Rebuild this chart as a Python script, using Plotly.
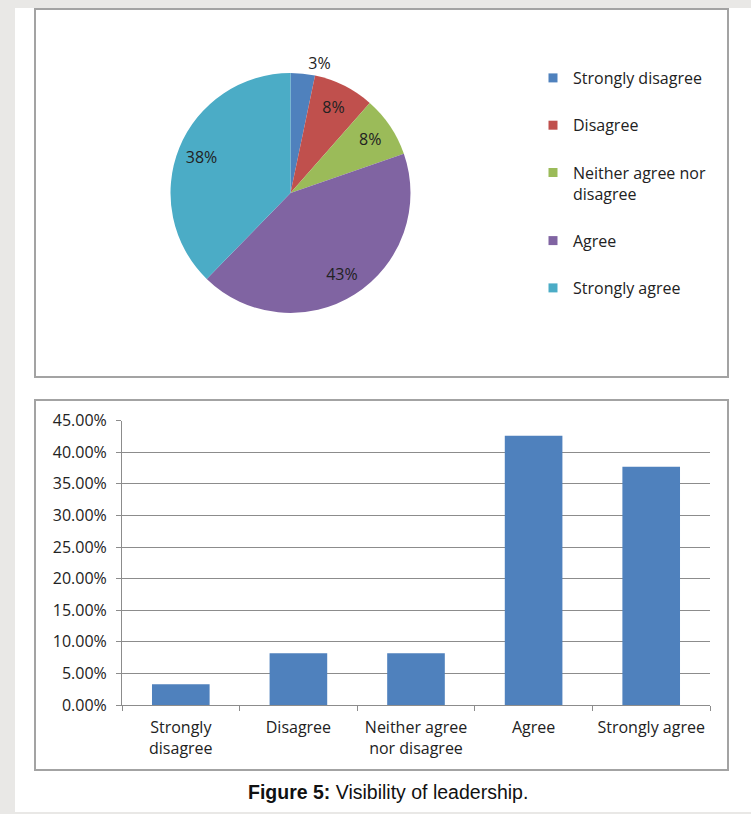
import plotly.graph_objects as go

# ---- data ----
categories = ["Strongly disagree", "Disagree", "Neither agree nor disagree", "Agree", "Strongly agree"]
share_pct = [3.28, 8.20, 8.20, 42.62, 37.70]          # percent of respondents
pie_colors = ["#4F81BD", "#C0504D", "#9BBB59", "#8064A2", "#4BACC6"]
bar_color = "#4F81BD"
bar_tick_labels = ["Strongly<br>disagree", "Disagree", "Neither agree<br>nor disagree", "Agree", "Strongly agree"]
legend_labels = ["Strongly disagree", "Disagree", "Neither agree nor<br>disagree", "Agree", "Strongly agree"]
y_tickvals = [0, 0.05, 0.10, 0.15, 0.20, 0.25, 0.30, 0.35, 0.40, 0.45]

W, H = 751, 814
FONT = "Open Sans"
TXT = "#222222"
FS = 16

def px_x(p):
    return p / W

def px_y(p):
    return 1 - p / H

pie_domain = dict(x=[px_x(170.5), px_x(410.5)], y=[px_y(313), px_y(73)])

fig = go.Figure()

# pie (slices)
fig.add_trace(go.Pie(
    labels=categories,
    values=share_pct,
    marker=dict(colors=pie_colors, line=dict(width=0)),
    sort=False,
    direction="clockwise",
    rotation=0,
    textinfo="none",
    showlegend=False,
    hoverinfo="label+percent",
    domain=pie_domain,
))

# pie data labels (transparent ring so the labels sit near the rim, like Excel)
fig.add_trace(go.Pie(
    labels=categories,
    values=share_pct,
    hole=0.6,
    marker=dict(colors=["rgba(0,0,0,0)"] * len(categories), line=dict(width=0)),
    sort=False,
    direction="clockwise",
    rotation=0,
    texttemplate="%{percent:.0%}",
    textposition=["outside", "inside", "inside", "inside", "inside"],
    insidetextorientation="horizontal",
    textfont=dict(family=FONT, size=FS, color=TXT),
    showlegend=False,
    hoverinfo="skip",
    domain=pie_domain,
))

# bars
fig.add_trace(go.Bar(
    x=categories,
    y=[v / 100 for v in share_pct],
    marker=dict(color=bar_color, line=dict(width=0)),
    showlegend=False,
    xaxis="x", yaxis="y",
))

# legend entries for the pie
for lab, col in zip(legend_labels, pie_colors):
    fig.add_trace(go.Scatter(
        x=[None], y=[None], mode="markers",
        marker=dict(symbol="square", size=9, color=col),
        name=lab, legendgroup=lab, showlegend=True,
        xaxis="x", yaxis="y",
    ))

shapes = [
    # white panel
    dict(type="rect", xref="paper", yref="paper", x0=px_x(15), x1=1.0, y0=px_y(812), y1=px_y(8),
         fillcolor="white", line=dict(width=0), layer="below"),
    # pie box
    dict(type="rect", xref="paper", yref="paper", x0=px_x(35), x1=px_x(728), y0=px_y(377), y1=px_y(9),
         fillcolor="rgba(0,0,0,0)", line=dict(color="#A3A3A3", width=2), layer="below"),
    # bar box
    dict(type="rect", xref="paper", yref="paper", x0=px_x(35), x1=px_x(728), y0=px_y(770), y1=px_y(400),
         fillcolor="rgba(0,0,0,0)", line=dict(color="#A3A3A3", width=2), layer="below"),
]

fig.update_layout(
    width=W, height=H,
    margin=dict(l=0, r=0, t=0, b=0, autoexpand=False),
    paper_bgcolor="#E9E8E6",
    plot_bgcolor="white",
    font=dict(family=FONT, size=FS, color=TXT),
    shapes=shapes,
    bargap=0.51,
    legend=dict(
        x=px_x(533), y=px_y(61), xanchor="left", yanchor="top",
        bgcolor="rgba(0,0,0,0)",
        font=dict(family=FONT, size=FS, color=TXT),
        tracegroupgap=23.5,
        valign="top",
    ),
    xaxis=dict(
        domain=[px_x(122), px_x(710)],
        anchor="y",
        type="category",
        tickmode="array",
        tickvals=categories,
        ticktext=bar_tick_labels,
        tickson="boundaries",
        ticks="outside", ticklen=5, tickcolor="#8C8C8C",
        ticklabelstandoff=8,
        showline=True, linecolor="#8C8C8C", linewidth=1,
        showgrid=False,
        automargin=False,
        tickfont=dict(family=FONT, size=FS, color=TXT),
        fixedrange=True,
    ),
    yaxis=dict(
        domain=[px_y(705), px_y(420.6)],
        anchor="x",
        range=[0, 0.45],
        tickmode="array",
        tickvals=y_tickvals,
        tickformat=".2%",
        ticks="outside", ticklen=5, tickcolor="#8C8C8C",
        ticklabelstandoff=6,
        showline=True, linecolor="#8C8C8C", linewidth=1,
        showgrid=True, gridcolor="#8C8C8C", gridwidth=1,
        zeroline=False,
        automargin=False,
        tickfont=dict(family=FONT, size=FS, color=TXT),
        fixedrange=True,
    ),
    annotations=[
        dict(text="<b>Figure 5:</b> Visibility of leadership.", xref="paper", yref="paper",
             x=px_x(388), y=px_y(792), xanchor="center", yanchor="middle", showarrow=False,
             font=dict(family="Liberation Sans, Arial", size=19.5, color="#111111")),
    ],
)

fig.write_html(
    "out.html",
    config={"displayModeBar": False},
    post_script="document.body.style.margin='0';document.body.style.overflow='hidden';",
)
